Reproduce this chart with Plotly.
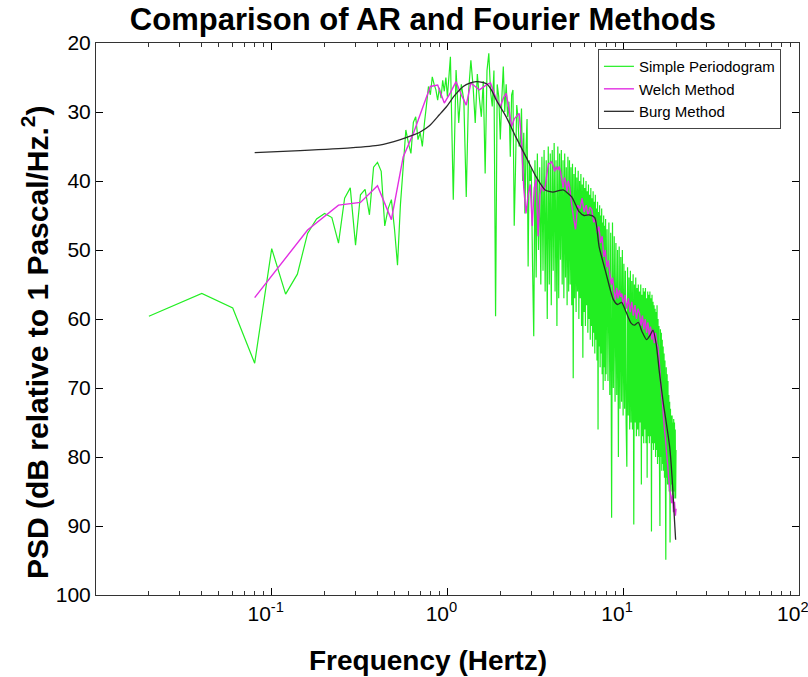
import plotly.graph_objects as go

# ---------------- data ----------------
# Simple periodogram, segment A: 0.02 .. 1.00 Hz (step 0.02)
GREEN_A_START, GREEN_A_STEP = 0.02, 0.02
GREEN_A = [59.6, 56.3, 58.4, 66.4, 49.8, 56.4, 53.5, 47.6, 45.5, 44.7,
           45.3, 49.0, 42.5, 41.0, 49.3, 42.0, 41.2, 44.9, 38.0, 37.3,
           38.6, 46.5, 44.0, 42.7, 47.0, 52.2, 43.5, 38.0, 32.6, 34.5,
           36.0, 31.5, 30.7, 34.0, 33.0, 35.0, 31.6, 29.0, 26.3, 27.5,
           24.9, 26.0, 26.8, 28.3, 26.5, 28.0, 25.4, 27.0, 25.0, 27.8]
# segment B: 1.04 .. 2.96 Hz (step 0.04)
GREEN_B_START, GREEN_B_STEP = 1.04, 0.04
GREEN_B = [22.0, 42.7, 23.9, 31.6, 26.0, 28.3, 42.3, 27.0, 22.5, 26.3,
           31.6, 24.5, 28.0, 30.7, 25.5, 38.9, 24.0, 21.5, 27.0, 29.2,
           24.0, 59.6, 26.0, 27.8, 34.0, 28.0, 23.4, 30.0, 26.0, 30.7,
           28.5, 36.5, 27.5, 26.8, 46.5, 38.4, 29.0, 30.7, 35.0, 34.5,
           29.5, 40.0, 33.0, 44.7, 35.5, 31.0, 52.4, 37.0, 40.0]
# segment C1: 3.00 .. 8.00 Hz (step 0.05)
GREEN_C1_START, GREEN_C1_STEP = 3.00, 0.05
GREEN_C1 = [38.0, 52.0, 62.5, 37.0, 54.0, 36.0, 50.0, 38.0, 55.0, 36.5,
            53.0, 35.5, 56.0, 37.0, 60.0, 35.0, 55.0, 36.0, 58.0, 35.5,
            53.0, 34.5, 56.0, 37.0, 61.0, 35.0, 57.0, 36.0, 51.4, 35.5,
            55.0, 37.0, 57.0, 36.0, 54.0, 38.0, 58.0, 36.5, 56.0, 37.0,
            55.0, 38.0, 58.0, 37.5, 68.6, 39.0, 57.0, 38.0, 59.0, 39.5,
            56.0, 38.5, 60.0, 40.0, 57.0, 39.0, 61.0, 40.5, 65.6, 39.5,
            59.0, 41.0, 61.0, 40.0, 58.0, 41.5, 62.0, 40.5, 60.0, 42.0,
            63.0, 41.0, 61.0, 42.5, 64.0, 41.5, 62.0, 43.0, 65.0, 42.0,
            63.0, 44.0, 66.0, 43.0, 76.0, 44.5, 64.0, 43.5, 67.0, 45.0,
            65.0, 44.0, 68.0, 46.0, 70.3, 45.0, 67.0, 46.5, 69.0, 45.5,
            68.0]
# segment C2: 8.1 .. 20.0 Hz (step 0.1)
GREEN_C2_START, GREEN_C2_STEP = 8.1, 0.1
GREEN_C2 = [47, 69, 46, 71, 47.5, 88.8, 46, 70, 48, 72,
            49, 71, 50, 80, 49.5, 73, 51, 72, 50, 74,
            52, 73, 53, 75, 81.4, 52.5, 74, 54, 76, 53,
            75, 54.5, 76, 53.5, 89.8, 55, 75, 54, 77, 55.5,
            76, 55, 77, 56, 75, 55, 84, 56.5, 77, 55.5,
            78, 56, 76, 55.5, 78, 57, 83, 56, 77, 56.5,
            78, 56, 77, 57, 90.8, 56.5, 78, 57.5, 79, 58,
            78, 58.5, 80, 59, 79, 58, 81, 60, 80, 61,
            81, 90, 61.5, 80, 62, 82, 63, 81, 64, 82,
            65, 83, 66, 82, 94.9, 67, 83, 68, 84, 69,
            84, 71, 85, 72, 92.4, 73, 85, 74, 84, 74,
            86, 75, 85, 74.5, 86, 75, 85, 76, 86, 79]

WELCH_F = [0.08, 0.16, 0.24, 0.32, 0.40, 0.48, 0.56, 0.64, 0.72, 0.80, 0.88, 0.96,
           1.04, 1.12, 1.20, 1.28, 1.36, 1.44, 1.52, 1.60, 1.68, 1.76, 1.84, 1.92,
           2.00, 2.08, 2.16, 2.24, 2.32, 2.40, 2.48, 2.56, 2.64, 2.72, 2.80, 2.88,
           2.96, 3.04, 3.12, 3.20, 3.28, 3.36, 3.44, 3.52, 3.60, 3.68, 3.76, 3.84,
           3.92, 4.00, 4.08, 4.16, 4.24, 4.32, 4.40, 4.48, 4.56, 4.64, 4.72, 4.80,
           4.88, 4.96, 5.04, 5.20, 5.36, 5.52, 5.68, 5.84, 6.00, 6.16, 6.32, 6.48,
           6.64, 6.80, 6.96, 7.12, 7.28, 7.44, 7.60, 7.76, 7.92, 8.08, 8.24, 8.40,
           8.56, 8.72, 8.88, 9.04, 9.20, 9.36, 9.52, 9.68, 9.84, 10.00, 10.24, 10.48,
           10.72, 10.96, 11.20, 11.44, 11.68, 11.92, 12.16, 12.40, 12.64, 12.88, 13.12, 13.36,
           13.60, 13.84, 14.08, 14.32, 14.56, 14.80, 15.04, 15.28, 15.52, 15.76, 16.00, 16.24,
           16.48, 16.72, 16.96, 17.20, 17.44, 17.68, 17.92, 18.16, 18.40, 18.64, 18.88, 19.12,
           19.36, 19.60, 19.84, 20.00]
WELCH_DB = [56.9, 47.1, 43.5, 43.1, 40.7, 45.6, 36.5, 33.1, 29.5, 26.3, 26.1, 28.7,
            27.2, 25.6, 27.5, 29.0, 25.8, 26.3, 26.8, 26.4, 26.0, 25.8, 27.2, 28.4,
            29.2, 28.0, 27.3, 29.5, 32.1, 31.0, 30.6, 30.2, 34.0, 41.0, 44.7, 42.0,
            40.5, 46.5, 41.0, 39.8, 48.0, 42.0, 40.5, 41.5, 40.8, 39.0, 37.5, 37.4,
            37.2, 37.8, 38.6, 37.9, 38.4, 37.9, 38.6, 39.8, 41.0, 39.5, 40.2, 41.5,
            40.0, 40.8, 42.5, 45.0, 47.0, 43.5, 44.0, 42.5, 44.5, 43.5, 45.0, 43.8,
            44.2, 46.0, 45.5, 47.5, 46.6, 49.0, 48.0, 51.0, 50.0, 52.5, 51.5, 53.4,
            55.0, 54.0, 56.0, 57.2, 55.5, 57.0, 55.8, 56.8, 56.3, 58.0, 56.5, 58.5,
            57.0, 59.0, 57.5, 59.5, 58.0, 60.0, 58.5, 59.2, 61.0, 59.5, 61.5, 60.0,
            62.0, 60.5, 62.5, 61.1, 63.0, 61.5, 63.5, 62.0, 63.5, 64.0, 65.5, 68.0,
            70.5, 72.0, 74.0, 76.0, 77.5, 79.5, 81.0, 83.0, 84.5, 85.5, 86.7, 85.5,
            88.0, 86.5, 88.5, 87.5]

BURG_F = [0.08, 0.145, 0.28, 0.41, 0.54, 0.63, 0.70, 0.79, 0.90, 0.99, 1.10, 1.23,
          1.34, 1.46, 1.58, 1.67, 1.78, 1.90, 2.16, 2.45, 2.80, 3.20, 3.60, 3.98,
          4.30, 4.56, 5.1, 5.6, 6.0, 6.4, 6.9, 7.3, 8.0, 8.8, 9.3, 9.8,
          10.4, 11.1, 11.6, 12.2, 12.8, 13.6, 14.2, 14.8, 15.4, 16.1, 17.0, 17.6,
          18.4, 19.0, 19.6, 19.9]
BURG_DB = [35.9, 35.6, 35.2, 34.8, 34.0, 33.4, 32.9, 32.0, 30.4, 29.2, 27.6, 26.3,
           25.8, 25.6, 25.7, 25.9, 26.8, 28.3, 30.7, 33.6, 36.5, 39.4, 41.3, 41.6,
           41.4, 41.3, 42.3, 44.4, 45.0, 44.9, 45.3, 49.5, 53.4, 57.2, 57.9, 57.6,
           59.0, 60.6, 60.9, 60.5, 61.8, 63.0, 62.4, 61.6, 63.5, 67.8, 72.5, 75.0,
           78.5, 83.0, 89.1, 92.0]

SERIES_NAMES = ["Simple Periodogram", "Welch Method", "Burg Method"]
TITLE = "Comparison of AR and Fourier Methods"
X_LABEL = "Frequency (Hertz)"
Y_LABEL = "PSD (dB relative to 1 Pascal/Hz.<sup>2</sup>)"
Y_TICKS = [20, 30, 40, 50, 60, 70, 80, 90, 100]
X_TICKS = [0.01, 0.1, 1, 10, 100]
X_TICKTEXT = ["", "10<sup>-1</sup>", "10<sup>0</sup>", "10<sup>1</sup>", "10<sup>2</sup>"]
X_MINOR = [m * d for d in (0.01, 0.1, 1, 10) for m in range(2, 10)]


def grid(start, step, n):
    return [round(start + i * step, 4) for i in range(n)]


green_f = (grid(GREEN_A_START, GREEN_A_STEP, len(GREEN_A))
           + grid(GREEN_B_START, GREEN_B_STEP, len(GREEN_B))
           + grid(GREEN_C1_START, GREEN_C1_STEP, len(GREEN_C1))
           + grid(GREEN_C2_START, GREEN_C2_STEP, len(GREEN_C2)))
green_db = GREEN_A + GREEN_B + GREEN_C1 + GREEN_C2

FONT = "Liberation Sans, Arial, Helvetica, sans-serif"

fig = go.Figure()
fig.add_trace(go.Scatter(x=green_f, y=green_db, mode="lines", name=SERIES_NAMES[0],
                         line=dict(color="#22ee22", width=1.2, simplify=False)))
fig.add_trace(go.Scatter(x=WELCH_F, y=WELCH_DB, mode="lines", name=SERIES_NAMES[1],
                         line=dict(color="#e22ee2", width=1.4, simplify=False)))
fig.add_trace(go.Scatter(x=BURG_F, y=BURG_DB, mode="lines", name=SERIES_NAMES[2],
                         line=dict(color="#2a2a2a", width=1.3, shape="spline", smoothing=0.6)))

fig.update_layout(
    width=808, height=677,
    margin=dict(l=96, r=9, t=43, b=82, autoexpand=False),
    paper_bgcolor="white", plot_bgcolor="white",
    font=dict(family=FONT, color="black"),
    showlegend=True,
    legend=dict(x=0.714, y=0.989, xanchor="left", yanchor="top",
                bgcolor="white", bordercolor="#444", borderwidth=1,
                font=dict(size=15, family=FONT), tracegroupgap=0),
    title=dict(text="<b>" + TITLE + "</b>", x=0.465, xref="paper", xanchor="center",
               y=1 - 19 / 677, yref="container", yanchor="middle",
               font=dict(size=31, family=FONT)),
    annotations=[
        dict(text="<b>" + X_LABEL + "</b>", xref="paper", yref="paper",
             x=(428 - 96) / 703, y=(595 - 660) / 552, xanchor="center", yanchor="middle",
             showarrow=False, font=dict(size=28, family=FONT)),
        dict(text="<b>" + Y_LABEL + "</b>", xref="paper", yref="paper",
             x=(35 - 96) / 703, y=(595 - 342) / 552, xanchor="center", yanchor="middle",
             textangle=-90, showarrow=False, font=dict(size=30, family=FONT)),
    ],
)

fig.update_xaxes(type="log", range=[-2, 2.001], tickmode="array", tickvals=X_TICKS,
                 ticktext=X_TICKTEXT, ticks="inside", ticklen=7, tickwidth=1,
                 tickcolor="#000", showline=True, linecolor="#333", linewidth=1,
                 mirror="allticks", showgrid=False, zeroline=False,
                 ticklabeloverflow="allow", automargin=False, ticklabelshift=-6,
                 minor=dict(tickmode="array", tickvals=X_MINOR, ticks="inside", ticklen=4,
                            tickwidth=1, tickcolor="#333", showgrid=False),
                 tickfont=dict(size=21, family=FONT))
fig.update_yaxes(range=[100, 20], tickmode="array", tickvals=Y_TICKS, ticks="inside",
                 ticklen=7, tickwidth=1, tickcolor="#000", showline=True,
                 linecolor="#333", linewidth=1, mirror="allticks", showgrid=False,
                 zeroline=False, automargin=False, tickfont=dict(size=21, family=FONT))

fig.write_html("out.html")
